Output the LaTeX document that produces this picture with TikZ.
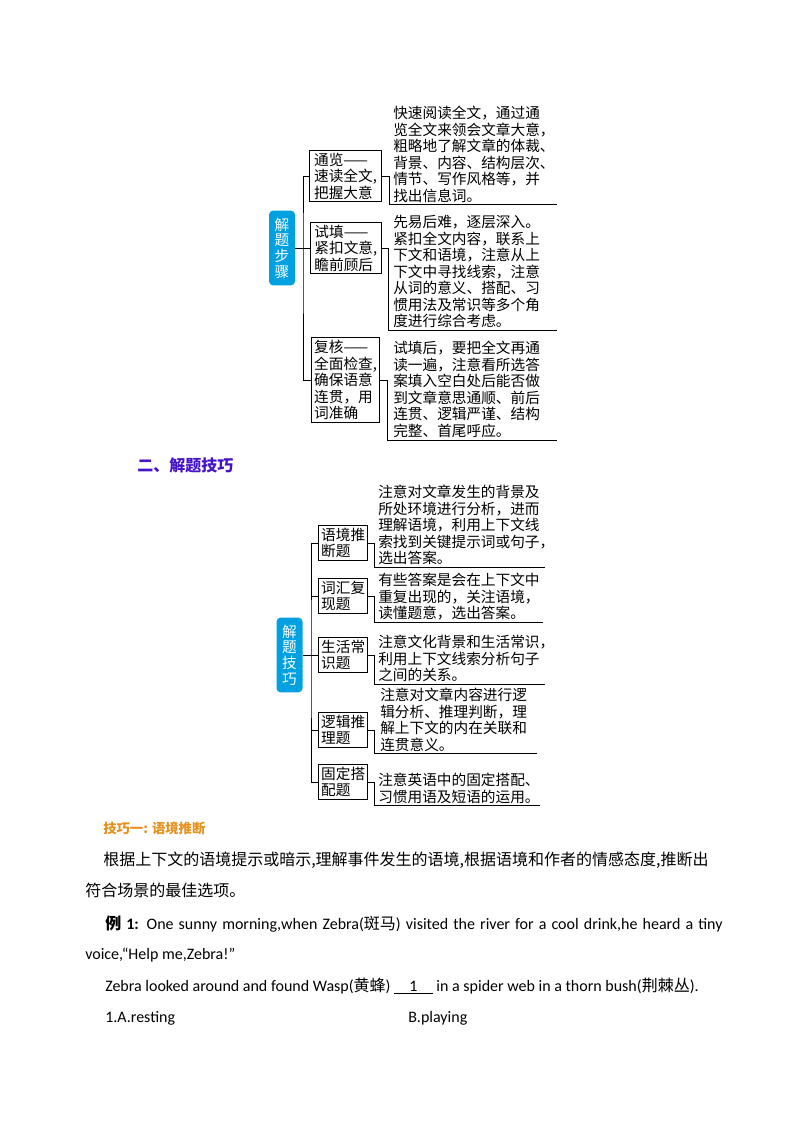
\documentclass[tikz,border=0pt]{standalone}
\usepackage{fontspec}
\setmainfont{Noto Sans CJK SC}
\newfontfamily\cjk{Noto Sans CJK SC}
\newfontfamily\latin{Carlito}
\usepackage{xcolor}
\usepackage{tikz}
\usetikzlibrary{positioning, calc}
\definecolor{hubblue}{RGB}{0,160,225}
\definecolor{headpurple}{RGB}{70,20,200}
\definecolor{tiporange}{RGB}{230,145,30}

\begin{document}
\begin{tikzpicture}[
    x=0.75bp, y=-0.75bp,
    hub/.style={rectangle, rounded corners=3bp, fill=hubblue, text=white, minimum width=19.5bp, minimum height=56bp, inner sep=0pt, align=center, font=\fontsize{11bp}{11.8bp}\selectfont},
    item/.style={rectangle, draw, line width=0.8pt, anchor=west, inner xsep=2bp, inner ysep=2bp, align=left, font=\fontsize{11bp}{12.4bp}\selectfont},
    note/.style={anchor=north west, inner xsep=0pt, inner ysep=1.5bp, align=left, font=\fontsize{11bp}{12.4bp}\selectfont},
    link/.style={line width=0.6pt},
    bodyline/.style={anchor=west, inner sep=0pt, font=\fontsize{12bp}{14bp}\selectfont},
    engline/.style={anchor=west, inner sep=0pt, font=\latin\fontsize{12bp}{14bp}\selectfont}
]
\useasboundingbox (0,0) rectangle (794,1123);

\node[hub] (S) at (282,248) {解\\题\\步\\骤};
\node[item, minimum width=54bp] (T1) at (309,176) {通览——\\速读全文,\\把握大意};
\node[item, minimum width=53bp] (T2) at (310,248) {试填——\\紧扣文意,\\瞻前顾后};
\node[item, minimum width=51bp] (T3) at (311,380) {复核——\\全面检查,\\确保语意\\连贯，用\\词准确};
\node[note] (D1) at (393,104) {快速阅读全文，通过通\\览全文来领会文章大意，\\粗略地了解文章的体裁、\\背景、内容、结构层次、\\情节、写作风格等，并\\找出信息词。};
\node[note] (D2) at (393,213) {先易后难，逐层深入。\\紧扣全文内容，联系上\\下文和语境，注意从上\\下文中寻找线索，注意\\从词的意义、搭配、习\\惯用法及常识等多个角\\度进行综合考虑。};
\node[note] (D3) at (393,339) {试填后，要把全文再通\\读一遍，注意看所选答\\案填入空白处后能否做\\到文章意思通顺、前后\\连贯、逻辑严谨、结构\\完整、首尾呼应。};
\coordinate (J1) at (303,248);

\draw[link] (S) -- (T2);
\draw[link] (T1.west) -| (J1) |- (T3.west);
\draw[link] (T1.east) -- ++(7,0) |- (D1.south west) -- ++(164,0);
\draw[link] (T2.east) -- ++(7,0) |- (D2.south west) -- ++(164,0);
\draw[link] (T3.east) -- ++(7,0) |- (D3.south west) -- ++(164,0);

\node[anchor=west, inner sep=0pt, text=headpurple, font=\bfseries\fontsize{12bp}{14bp}\selectfont] (H) at (137,465) {二、解题技巧};

\node[hub] (S2) at (289.5,655) {解\\题\\技\\巧};
\node[item, minimum width=36bp] (U1) at (318,543) {语境推\\断题};
\node[item, minimum width=36bp] (U2) at (318,596) {词汇复\\现题};
\node[item, minimum width=36bp] (U3) at (318,655) {生活常\\识题};
\node[item, minimum width=36bp] (U4) at (318,730) {逻辑推\\理题};
\node[item, minimum width=36bp] (U5) at (318,782) {固定搭\\配题};
\node[note] (E1) at (378,483) {注意对文章发生的背景及\\所处环境进行分析，进而\\理解语境，利用上下文线\\索找到关键提示词或句子，\\选出答案。};
\node[note] (E2) at (378,571) {有些答案是会在上下文中\\重复出现的，关注语境，\\读懂题意，选出答案。};
\node[note] (E3) at (378,633) {注意文化背景和生活常识，\\利用上下文线索分析句子\\之间的关系。};
\node[note] (E4) at (380,686) {注意对文章内容进行逻\\辑分析、推理判断，理\\解上下文的内在关联和\\连贯意义。};
\node[note] (E5) at (378,771) {注意英语中的固定搭配、\\习惯用语及短语的运用。};
\coordinate (J2) at (311,655);

\draw[link] (S2) -- (U3);
\draw[link] (U1.west) -| (J2) |- (U5.west);
\draw[link] (J2 |- U2.west) -- (U2.west);
\draw[link] (J2 |- U4.west) -- (U4.west);
\draw[link] (U1.east) -- ++(6,0) |- (E1.south west) -- ++(167,0);
\draw[link] (U2.east) -- ++(6,0) |- (E2.south west) -- ++(165,0);
\draw[link] (U3.east) -- ++(6,0) |- (E3.south west) -- ++(167,0);
\draw[link] (U4.east) -- ++(6,0) |- (E4.south west) -- ++(157,0);
\draw[link] (U5.east) -- ++(6,0) |- (E5.south west) -- ++(162,0);

\node[anchor=west, inner sep=0pt, text=tiporange, font=\bfseries\fontsize{10bp}{12bp}\selectfont] (K) at (103,828) {技巧一: 语境推断};
\node[bodyline] (P1) at (103,860) {根据上下文的语境提示或暗示,理解事件发生的语境,根据语境和作者的情感态度,推断出};
\node[bodyline] (P2) at (85,890) {符合场景的最佳选项。};
\node[engline] (L1) at (105,924) {\makebox[463bp][s]{{\cjk\bfseries 例} \textbf{1:} One sunny morning,when Zebra({\cjk 斑马}) visited the river for a cool drink,he heard a tiny}};
\node[engline] (L2) at (85,955) {voice,“Help me,Zebra!”};
\node[engline] (L3) at (105,986) {Zebra looked around and found Wasp({\cjk 黄蜂}) \underline{\makebox[29bp]{1}} in a spider web in a thorn bush({\cjk 荆棘丛}).};
\node[engline] (L4) at (105,1018) {1.A.resting};
\node[engline] (L5) at (408,1018) {B.playing};
\end{tikzpicture}
\end{document}
